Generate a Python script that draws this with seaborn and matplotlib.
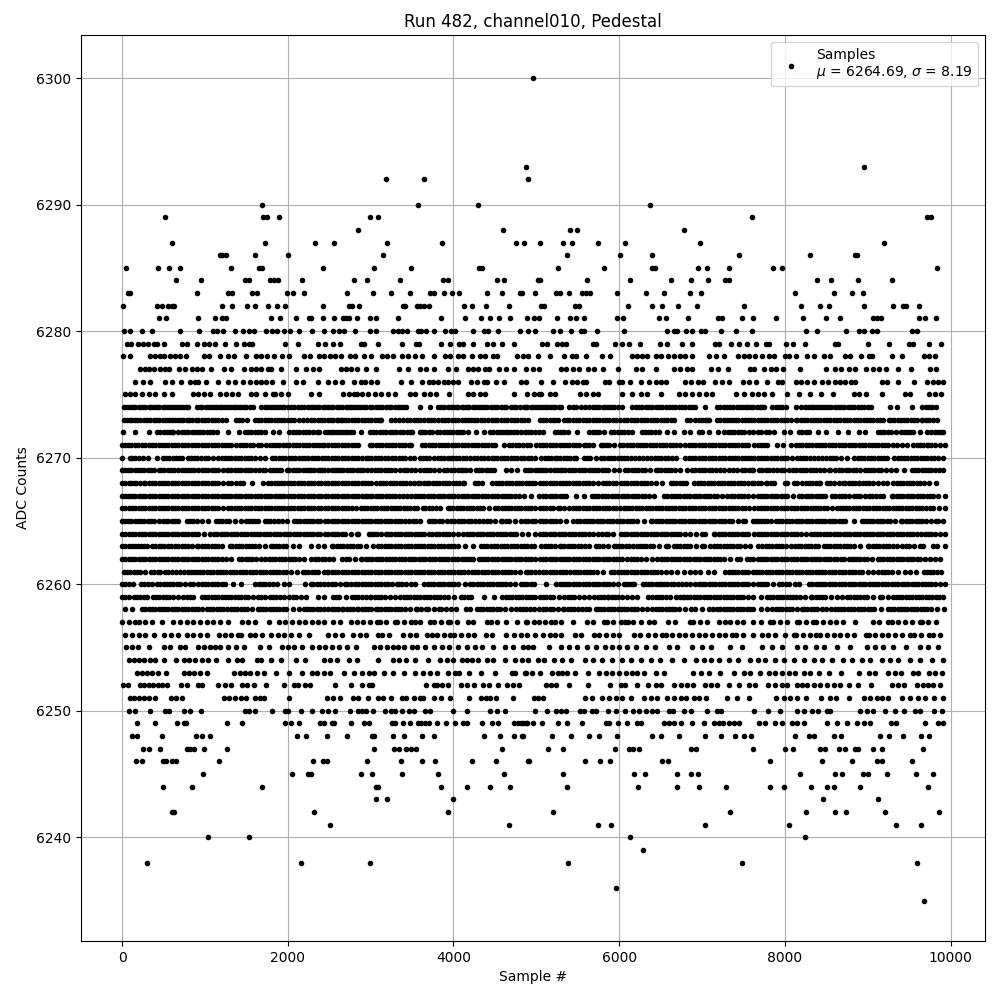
import pandas as pd
import matplotlib
matplotlib.use("Agg")
import matplotlib.pyplot as plt
import seaborn as sns

title = "Run 482, channel010, Pedestal"
x_label = "Sample #"
y_label = "ADC Counts"
mu = 6264.69
sigma = 8.19

# ---------------------------
# sample numbers per ADC level
# ---------------------------
upper = {
    6300: [4963],
    6293: [4878, 8950],
    6292: [3180, 3650, 4902],
    6290: [1684, 3566, 4300, 6372],
    6289: [515, 1697, 1745, 1889, 2987, 3095, 7600, 9720, 9760],
    6288: [2842, 4603, 5408, 5492, 6781],
    6287: [600, 1720, 2324, 2553, 3192, 3867, 4760, 4854, 5047, 5324, 5432, 5745, 6071, 6974, 9202],
    6286: [1178, 1210, 1258, 1604, 1998, 3144, 5372, 6010, 6396, 7444, 8299, 8849, 8869],
    6285: [44, 430, 563, 695, 1310, 1648, 1688, 2428, 3035, 3493, 4305, 4345, 5264, 5818, 6396, 6428, 6950, 7058, 7323, 7853, 7962, 9841],
    6284: [647, 949, 1479, 1528, 1781, 1829, 1877, 2167, 2794, 2951, 3349, 3879, 3940, 4530, 4615, 5015, 5047, 5613, 6131, 6625, 6866, 7070, 7283, 7323, 8383, 8552, 8877, 9299],
    6283: [72, 100, 900, 1274, 1323, 1564, 1628, 1986, 2058, 2191, 2710, 3023, 3240, 3481, 3718, 3767, 3891, 3988, 4072, 4410, 4591, 4808, 4822, 4987, 5240, 5288, 5396, 5553, 5601, 5649, 5974, 6324, 6540, 6854, 6986, 8118, 8588, 8805, 8938],
    6282: [8, 418, 478, 551, 599, 631, 1202, 1323, 1503, 1600, 1757, 1865, 1962, 2420, 2734, 2774, 2854, 3385, 3417, 3554, 3602, 3650, 3710, 4133, 4225, 4398, 4675, 5059, 5095, 5468, 5517, 6107, 6396, 6516, 6709, 6938, 7504, 8191, 8419, 8528, 8961, 9311, 9423, 9463, 9624],
    6281: [442, 527, 913, 1118, 1202, 1250, 1793, 1901, 2094, 2251, 2275, 2420, 2553, 2661, 2700, 2734, 2830, 2987, 3059, 3325, 3855, 4145, 4338, 4446, 4555, 4687, 4884, 4975, 5035, 5252, 5408, 5476, 5577, 5974, 6047, 6480, 6565, 6830, 7191, 7239, 7480, 7612, 7889, 8215, 8492, 8660, 9070, 9118, 9166, 9624, 9696, 9829],
    6280: [20, 100, 237, 358, 695, 925, 1093, 1142, 1214, 1359, 1455, 1528, 1588, 1733, 1805, 1865, 1950, 2030, 2131, 2287, 2432, 2541, 2613, 2673, 2806, 2987, 3059, 3276, 3325, 3373, 3445, 3566, 3614, 3674, 3771, 3903, 3976, 4024, 4241, 4374, 4422, 4543, 4808, 4904, 4983, 5203, 5288, 5420, 5537, 5577, 5733, 6059, 6577, 6661, 6701, 6805, 6878, 6986, 7034, 7227, 7408, 7600, 8251, 8387, 8733, 8893, 8950, 9058, 9110, 9540, 9600],
    6279: [60, 108, 189, 253, 318, 382, 422, 502, 724, 784, 908, 985, 1045, 1126, 1238, 1379, 1467, 1528, 1568, 1962, 2118, 2360, 2452, 2541, 2625, 2878, 2915, 3083, 3373, 3542, 3578, 3855, 3964, 4072, 4120, 4241, 4410, 4482, 4591, 4735, 5071, 5135, 5252, 5312, 5360, 5685, 5725, 5950, 6035, 6119, 6251, 6492, 6577, 6757, 6878, 7155, 7211, 7347, 7444, 7540, 7648, 7769, 7805, 8010, 8094, 8239, 8600, 8636, 8998, 9263, 9503, 9552, 9744, 9889],
    6278: [8, 92, 342, 402, 462, 502, 583, 643, 703, 776, 985, 1045, 1178, 1274, 1347, 1491, 1620, 1676, 1749, 1829, 1930, 2018, 2199, 2271, 2372, 2432, 2513, 2573, 2641, 2746, 2814, 2915, 3003, 3136, 3196, 3268, 3377, 3457, 3538, 3618, 3771, 3903, 3960, 4060, 4120, 4229, 4322, 4382, 4474, 4522, 4764, 4844, 4894, 5023, 5167, 5336, 5436, 5476, 5597, 5794, 5890, 6159, 6219, 6279, 6340, 6440, 6500, 6589, 6661, 6733, 6797, 6878, 7090, 7163, 7263, 7432, 7504, 7564, 7645, 7725, 7805, 7865, 8006, 8046, 8134, 8267, 8347, 8476, 8540, 8729, 8789, 8925, 9010, 9050, 9299, 9419, 9680, 9744, 9813],
}

# dense band, sample numbers in tens: single dots can't be told apart inside the runs
band_tens = {
    6277: [22, 28, 33, 39, 46, 52, 57, 69, 76, 84, 91, 96, 107, 123, 131, 147, 156, 162, 168, 176, 180, 192, 210, 222, 230, 238, 264, 270, 276, 284, 294, 307, 334, 345, 359, 367, 377, 393, 403, 417, 423, 430, 438, 443, 455, 464, 473, 487, 496, 503, 530, 536, 544, 551, 562, 570, 580, 599, 620, 628, 645, 666, 674, 682, 688, 711, 719, 731, 758, 763, 775, 783, 789, 798, 818, 850, 861, 868, 877, 885, 898, 907, 914, 922, 936, 952, 975, 983],
    6276: [15, 25, 34, 52, 60, 71, 82, 88, 92, 101, 116, 128, 136, 146, 154, 162, 168, 174, 181, 194, 210, 218, 237, 249, 257, 265, 280, 288, 293, 300, 308, 337, 349, 362, 370, 375, 381, 388, 393, 399, 405, 421, 429, 437, 441, 451, 461, 481, 487, 506, 520, 535, 543, 549, 556, 560, 583, 588, 600, 604, 613, 626, 636, 644, 651, 656, 679, 687, 695, 701, 716, 724, 732, 750, 757, 765, 779, 792, 797, 813, 820, 827, 835, 845, 852, 860, 866, 873, 880, 885, 917, 923, 937, 956, 972, 979, 985, 991],
    6275: [4, 10, 16, 24, 32, 40, 50, 60, 85, 92, 99, 106, 118, 126, 133, 140, 156, 162, 172, 182, 184, 192, 200, 228, 238, 267, 274, 280, 283, 290, 297, 305, 313, 321, 329, 348, 354, 365, 372, 379, 395, 417, 423, 432, 438, 473, 489, 497, 503, 506, 516, 523, 553, 560, 568, 574, 604, 615, 626, 634, 651, 672, 680, 688, 696, 705, 712, 741, 751, 760, 767, 775, 785, 803, 817, 830, 844, 858, 883, 890, 898, 917, 945, 951, 974, 981, 989],
    6274: [2, 9, 16, 24, 32, 38, 45, 52, 59, 66, 73, 80, 90, 97, 105, 112, 118, 124, 132, 138, 144, 150, 158, 168, 175, 182, 189, 196, 204, 212, 220, 228, 234, 242, 248, 255, 262, 270, 275, 281, 288, 295, 302, 310, 318, 325, 333, 335, 343, 359, 372, 381, 389, 397, 403, 410, 415, 419, 426, 433, 441, 449, 457, 464, 469, 476, 485, 489, 496, 503, 510, 516, 523, 530, 540, 544, 554, 559, 568, 572, 580, 586, 590, 598, 604, 615, 624, 632, 636, 644, 652, 660, 668, 676, 684, 692, 704, 718, 726, 734, 742, 750, 756, 762, 770, 775, 785, 793, 801, 814, 820, 828, 834, 841, 849, 856, 864, 872, 880, 888, 896, 904, 927, 935, 954, 966, 974, 982],
    6273: [2, 10, 15, 22, 30, 38, 45, 53, 60, 68, 71, 78, 84, 89, 96, 104, 112, 121, 126, 138, 141, 151, 161, 168, 176, 184, 192, 200, 208, 218, 228, 236, 244, 252, 259, 264, 269, 277, 285, 293, 301, 309, 313, 325, 334, 344, 352, 360, 369, 373, 381, 386, 394, 402, 410, 418, 425, 429, 437, 447, 450, 457, 465, 473, 481, 490, 504, 512, 520, 526, 534, 540, 548, 556, 564, 572, 576, 580, 588, 596, 606, 614, 622, 626, 634, 642, 650, 658, 666, 682, 685, 692, 700, 706, 708, 718, 722, 730, 738, 744, 748, 756, 763, 771, 779, 787, 795, 803, 813, 815, 823, 831, 835, 843, 851, 859, 867, 875, 883, 891, 895, 903, 911, 919, 926, 928, 936, 944, 952, 960, 965, 966, 974, 984],
    6272: [1, 16, 33, 42, 50, 58, 62, 68, 76, 84, 92, 94, 102, 110, 114, 128, 141, 148, 156, 164, 172, 182, 190, 202, 210, 218, 226, 231, 238, 245, 252, 258, 262, 266, 272, 279, 288, 299, 307, 315, 323, 331, 339, 344, 350, 359, 366, 374, 380, 384, 392, 400, 408, 417, 427, 437, 444, 452, 460, 466, 470, 477, 482, 490, 498, 503, 508, 522, 530, 538, 549, 563, 568, 576, 582, 590, 598, 606, 616, 627, 635, 643, 648, 658, 666, 678, 685, 696, 700, 709, 719, 727, 735, 743, 751, 762, 771, 777, 781, 787, 799, 806, 817, 821, 829, 840, 850, 864, 876, 889, 897, 912, 920, 928, 934, 940, 948, 951, 955, 963, 971, 977, 985, 991],
    6271: [0, 7, 15, 24, 32, 36, 44, 52, 60, 68, 76, 84, 92, 100, 108, 116, 124, 132, 137, 142, 150, 158, 164, 168, 174, 182, 190, 198, 206, 214, 222, 230, 238, 244, 253, 261, 269, 277, 285, 299, 302, 310, 318, 326, 334, 342, 349, 362, 370, 378, 386, 394, 402, 410, 418, 426, 434, 442, 450, 461, 467, 475, 484, 489, 492, 500, 504, 512, 520, 528, 536, 544, 552, 558, 560, 568, 578, 580, 588, 594, 601, 609, 617, 625, 633, 641, 649, 657, 665, 673, 679, 684, 692, 700, 708, 716, 724, 732, 740, 748, 756, 763, 771, 779, 790, 798, 808, 813, 821, 829, 837, 845, 853, 861, 869, 877, 885, 893, 901, 909, 917, 925, 935, 942, 948, 955, 963, 971, 973, 981, 993],
    6270: [0, 9, 12, 20, 31, 42, 49, 57, 65, 72, 79, 87, 95, 104, 110, 116, 124, 132, 140, 148, 156, 166, 172, 181, 189, 197, 205, 213, 221, 229, 237, 245, 253, 261, 269, 277, 285, 295, 297, 305, 313, 321, 326, 334, 342, 352, 359, 367, 376, 381, 389, 397, 399, 407, 415, 425, 429, 437, 447, 449, 457, 465, 473, 481, 490, 499, 506, 514, 523, 525, 533, 541, 548, 557, 565, 578, 582, 590, 598, 606, 614, 624, 634, 639, 647, 655, 664, 669, 680, 688, 696, 704, 712, 720, 728, 736, 744, 752, 755, 759, 763, 771, 779, 787, 795, 803, 815, 818, 826, 835, 845, 854, 862, 875, 884, 892, 900, 908, 916, 923, 932, 940, 948, 956, 964, 972, 980, 991],
    6269: [0, 7, 15, 23, 31, 38, 44, 47, 55, 63, 72, 76, 79, 87, 92, 96, 100, 108, 116, 127, 128, 136, 144, 152, 160, 170, 173, 178, 186, 192, 199, 202, 210, 218, 226, 228, 236, 241, 248, 257, 259, 267, 275, 283, 291, 301, 305, 313, 321, 325, 330, 340, 349, 360, 364, 372, 382, 388, 397, 401, 409, 415, 420, 427, 431, 439, 445, 449, 463, 477, 486, 494, 501, 508, 517, 525, 528, 531, 539, 547, 555, 563, 571, 579, 587, 600, 607, 615, 623, 631, 644, 647, 655, 663, 673, 682, 688, 696, 704, 712, 722, 732, 742, 748, 757, 762, 769, 773, 781, 791, 799, 805, 810, 818, 826, 834, 842, 853, 855, 861, 865, 874, 878, 886, 897, 900, 908, 916, 928, 934, 944, 953, 957, 965, 973, 981, 991],
    6268: [0, 8, 14, 17, 26, 28, 36, 44, 52, 60, 68, 76, 84, 92, 100, 108, 116, 128, 132, 142, 146, 157, 170, 176, 184, 192, 200, 208, 216, 224, 232, 240, 245, 253, 261, 269, 277, 285, 293, 301, 311, 315, 323, 331, 339, 347, 357, 360, 368, 371, 379, 387, 395, 403, 411, 413, 426, 434, 447, 451, 459, 467, 475, 483, 491, 499, 504, 512, 520, 528, 536, 544, 552, 560, 568, 574, 580, 588, 596, 602, 610, 618, 626, 634, 644, 652, 662, 665, 673, 681, 690, 695, 703, 711, 719, 727, 735, 743, 751, 760, 763, 771, 777, 779, 787, 800, 803, 811, 821, 825, 833, 841, 843, 851, 859, 870, 873, 881, 889, 890, 898, 906, 918, 923, 931, 939, 947, 955, 963, 974, 982],
    6267: [0, 7, 13, 16, 24, 32, 40, 48, 56, 64, 72, 80, 88, 96, 104, 112, 120, 128, 136, 144, 152, 160, 168, 176, 184, 192, 200, 208, 216, 224, 232, 240, 245, 253, 261, 269, 277, 285, 293, 299, 302, 310, 318, 326, 334, 344, 349, 357, 365, 373, 381, 389, 397, 405, 410, 418, 426, 434, 442, 450, 458, 466, 474, 485, 493, 503, 512, 520, 528, 536, 548, 557, 567, 575, 583, 591, 599, 607, 615, 623, 631, 642, 654, 662, 670, 678, 686, 694, 702, 710, 718, 730, 735, 743, 751, 762, 771, 779, 787, 795, 803, 817, 821, 829, 837, 845, 849, 857, 865, 873, 883, 891, 897, 905, 915, 918, 929, 931, 939, 947, 955, 963, 971, 979, 993],
    6266: [0, 8, 16, 24, 32, 40, 48, 56, 64, 72, 80, 88, 96, 100, 108, 116, 128, 132, 140, 148, 156, 164, 172, 180, 188, 196, 204, 212, 220, 228, 236, 245, 253, 261, 269, 277, 288, 292, 300, 308, 316, 324, 332, 340, 348, 356, 363, 366, 374, 384, 394, 396, 404, 412, 420, 428, 436, 450, 454, 462, 470, 478, 486, 494, 504, 512, 520, 526, 528, 534, 540, 548, 556, 564, 572, 580, 588, 596, 606, 608, 616, 624, 632, 640, 648, 656, 664, 672, 680, 688, 696, 704, 712, 720, 728, 736, 744, 752, 763, 771, 779, 787, 795, 803, 811, 819, 827, 835, 843, 851, 863, 866, 874, 882, 890, 898, 906, 914, 922, 931, 934, 942, 950, 958, 966, 975, 979, 986, 993],
    6265: [0, 7, 15, 23, 31, 39, 49, 53, 60, 67, 78, 82, 90, 104, 113, 121, 129, 144, 149, 157, 164, 172, 175, 183, 193, 199, 207, 215, 223, 231, 239, 245, 253, 261, 269, 277, 285, 293, 301, 309, 317, 325, 333, 341, 351, 359, 370, 378, 386, 392, 397, 405, 413, 421, 431, 436, 444, 457, 459, 467, 481, 486, 495, 499, 504, 512, 520, 528, 544, 549, 557, 565, 573, 581, 589, 597, 605, 613, 622, 638, 640, 648, 656, 664, 672, 680, 688, 696, 704, 712, 720, 728, 736, 750, 752, 762, 765, 767, 775, 783, 789, 793, 801, 809, 817, 825, 833, 841, 849, 857, 865, 873, 893, 895, 903, 911, 919, 927, 940, 942, 950, 958, 962, 970, 982, 985, 991],
    6264: [0, 8, 16, 24, 28, 36, 44, 52, 60, 68, 76, 84, 92, 106, 111, 119, 127, 135, 143, 151, 159, 167, 175, 183, 191, 199, 207, 215, 223, 231, 239, 245, 253, 261, 269, 283, 285, 298, 300, 308, 318, 321, 329, 337, 345, 353, 361, 370, 379, 383, 391, 400, 406, 412, 420, 428, 436, 444, 452, 460, 468, 476, 490, 498, 504, 512, 520, 523, 531, 539, 547, 555, 563, 574, 584, 587, 593, 602, 610, 618, 626, 634, 642, 650, 658, 666, 674, 686, 700, 704, 714, 716, 724, 732, 740, 748, 756, 763, 771, 775, 783, 791, 799, 807, 815, 825, 831, 839, 847, 855, 863, 871, 879, 887, 895, 903, 911, 919, 927, 935, 943, 951, 959, 969, 973, 981, 993],
    6263: [0, 8, 12, 15, 23, 30, 36, 44, 47, 55, 64, 68, 76, 84, 90, 92, 100, 108, 116, 120, 130, 133, 141, 149, 157, 165, 180, 182, 190, 198, 214, 228, 236, 244, 253, 255, 263, 271, 279, 287, 303, 309, 317, 325, 333, 341, 349, 357, 365, 373, 381, 389, 397, 405, 423, 433, 441, 449, 457, 465, 473, 481, 489, 497, 506, 514, 522, 528, 530, 538, 546, 554, 564, 572, 580, 594, 596, 604, 612, 617, 625, 633, 641, 656, 659, 666, 670, 678, 686, 700, 702, 710, 714, 722, 730, 738, 746, 758, 767, 773, 777, 785, 793, 801, 808, 816, 824, 832, 840, 847, 851, 859, 867, 875, 883, 900, 902, 910, 918, 926, 935, 942, 950, 963, 967, 979, 984, 993],
    6262: [0, 8, 16, 24, 32, 40, 48, 56, 64, 72, 80, 88, 96, 104, 112, 120, 132, 141, 149, 157, 168, 173, 181, 189, 197, 205, 213, 228, 233, 241, 245, 254, 266, 274, 288, 290, 298, 306, 314, 322, 330, 338, 346, 354, 362, 370, 378, 386, 394, 402, 410, 418, 424, 431, 434, 442, 450, 458, 466, 474, 482, 490, 498, 504, 512, 520, 528, 536, 544, 552, 560, 568, 576, 584, 592, 600, 604, 610, 618, 626, 640, 646, 654, 662, 670, 678, 686, 694, 702, 710, 718, 726, 742, 746, 754, 758, 762, 767, 775, 783, 791, 799, 807, 815, 823, 831, 839, 847, 855, 863, 872, 881, 883, 891, 899, 912, 915, 923, 931, 939, 947, 955, 963, 975, 987],
    6261: [2, 10, 18, 22, 35, 39, 46, 52, 60, 70, 75, 83, 90, 94, 102, 110, 118, 126, 134, 142, 150, 158, 166, 174, 182, 190, 198, 204, 218, 221, 229, 237, 244, 247, 249, 257, 265, 273, 281, 289, 297, 305, 313, 321, 329, 333, 341, 349, 357, 365, 373, 381, 389, 397, 405, 413, 418, 426, 434, 442, 450, 458, 466, 474, 487, 490, 498, 503, 512, 520, 528, 536, 541, 549, 557, 565, 573, 590, 594, 602, 610, 618, 626, 634, 642, 650, 662, 670, 678, 686, 698, 707, 715, 728, 732, 740, 748, 756, 762, 765, 773, 781, 789, 797, 805, 813, 821, 829, 837, 845, 853, 861, 869, 877, 885, 893, 907, 913, 921, 929, 945, 951, 958, 968, 971, 979, 989],
    6260: [0, 8, 13, 23, 31, 42, 46, 54, 62, 70, 82, 85, 92, 100, 108, 116, 124, 144, 161, 169, 177, 187, 196, 202, 221, 228, 231, 239, 244, 249, 257, 269, 271, 276, 281, 289, 297, 305, 313, 321, 332, 334, 343, 349, 353, 364, 373, 381, 389, 397, 405, 414, 420, 428, 436, 444, 452, 460, 468, 474, 481, 489, 497, 512, 524, 528, 536, 544, 552, 560, 568, 576, 584, 592, 606, 608, 616, 618, 629, 632, 640, 648, 650, 658, 666, 676, 686, 692, 700, 708, 716, 724, 732, 740, 748, 756, 762, 771, 779, 793, 797, 805, 812, 817, 829, 833, 841, 849, 857, 865, 873, 881, 889, 893, 901, 909, 917, 925, 933, 941, 949, 957, 965, 973, 981, 993],
    6259: [0, 8, 14, 22, 30, 37, 45, 53, 62, 68, 78, 86, 96, 104, 112, 120, 128, 136, 144, 152, 164, 168, 172, 178, 186, 196, 202, 210, 222, 236, 244, 254, 262, 277, 281, 289, 299, 301, 309, 317, 329, 336, 344, 352, 360, 368, 376, 384, 393, 409, 413, 421, 437, 449, 459, 467, 475, 483, 491, 499, 504, 512, 520, 534, 538, 546, 558, 563, 570, 578, 586, 587, 595, 603, 615, 622, 635, 640, 648, 657, 661, 669, 677, 678, 686, 694, 702, 710, 718, 726, 734, 742, 750, 762, 771, 778, 786, 794, 802, 810, 818, 831, 833, 841, 849, 863, 869, 875, 883, 891, 899, 915, 917, 931, 934, 942, 950, 958, 966, 974, 982, 991],
    6258: [3, 12, 24, 28, 36, 44, 52, 60, 68, 76, 84, 92, 102, 106, 114, 122, 132, 135, 143, 151, 164, 166, 174, 182, 190, 198, 214, 219, 227, 235, 244, 253, 261, 265, 267, 275, 283, 285, 293, 301, 307, 309, 317, 325, 333, 341, 355, 356, 367, 369, 383, 385, 397, 403, 415, 420, 428, 432, 440, 448, 456, 469, 476, 484, 492, 503, 512, 520, 532, 534, 542, 550, 560, 564, 572, 574, 582, 590, 598, 606, 614, 622, 634, 640, 648, 656, 664, 672, 687, 692, 708, 713, 718, 722, 730, 738, 746, 754, 762, 771, 785, 793, 801, 809, 821, 823, 831, 839, 850, 856, 860, 868, 876, 884, 892, 900, 908, 925, 928, 936, 944, 952, 960, 968, 976, 992],
    6257: [0, 8, 16, 20, 28, 36, 48, 62, 70, 78, 86, 94, 102, 110, 118, 128, 145, 152, 160, 177, 189, 197, 205, 213, 221, 229, 237, 244, 255, 263, 276, 284, 291, 299, 308, 311, 319, 329, 332, 340, 349, 353, 359, 372, 377, 385, 393, 396, 404, 417, 424, 440, 445, 453, 464, 477, 487, 489, 497, 503, 510, 518, 522, 530, 544, 561, 569, 582, 585, 593, 602, 607, 611, 617, 626, 636, 642, 659, 667, 686, 689, 698, 706, 720, 728, 734, 742, 750, 762, 771, 782, 786, 794, 802, 815, 817, 825, 834, 838, 846, 854, 862, 870, 885, 906, 914, 925, 929, 937, 945, 953, 963, 965, 973, 983],
    6256: [4, 12, 20, 28, 38, 51, 59, 68, 78, 86, 94, 102, 117, 124, 132, 140, 144, 154, 161, 169, 180, 188, 196, 204, 214, 226, 249, 257, 265, 279, 287, 295, 309, 314, 322, 339, 348, 355, 368, 374, 380, 388, 396, 401, 409, 417, 425, 439, 446, 463, 473, 481, 489, 499, 508, 516, 522, 530, 547, 554, 570, 576, 584, 592, 600, 618, 625, 635, 643, 652, 656, 664, 672, 680, 688, 696, 704, 712, 720, 728, 736, 741, 749, 762, 772, 780, 788, 800, 811, 814, 822, 830, 838, 843, 851, 859, 867, 875, 883, 898, 901, 909, 917, 925, 933, 942, 951, 956, 964, 974, 979, 987],
}

# more dots inside the runs that read as solid ink
band_fill_tens = {
    6274: [6, 13, 20, 28, 35, 42, 49, 56, 63, 70, 77, 94, 101, 109, 115, 121, 128, 135, 141, 147, 154, 172, 179, 186, 193, 200, 208, 216, 224, 231, 238, 245, 252, 259, 266, 273, 278, 285, 292, 299, 306, 314, 322, 329, 339, 385, 393, 400, 406, 412, 417, 423, 430, 437, 445, 453, 461, 473, 480, 487, 493, 500, 507, 513, 520, 527, 548, 563, 576, 583, 594, 620, 628, 640, 648, 656, 664, 672, 680, 688, 722, 730, 738, 746, 753, 759, 766, 773, 789, 797, 824, 831, 838, 845, 852, 860, 868, 876, 884, 892, 900, 970, 978],
    6273: [6, 12, 18, 26, 34, 41, 49, 57, 64, 74, 81, 92, 100, 108, 116, 145, 164, 172, 180, 188, 196, 204, 213, 223, 232, 240, 248, 255, 261, 266, 273, 281, 289, 297, 305, 311, 329, 339, 348, 356, 364, 377, 390, 398, 406, 414, 421, 433, 442, 453, 461, 469, 477, 485, 508, 516, 523, 537, 544, 552, 560, 568, 584, 592, 601, 610, 618, 630, 638, 646, 654, 662, 696, 704, 726, 734, 741, 752, 759, 767, 775, 783, 791, 799, 808, 819, 827, 839, 847, 855, 863, 871, 879, 887, 899, 907, 915, 932, 940, 948, 956, 970, 979],
    6272: [46, 54, 60, 72, 80, 88, 98, 106, 152, 160, 168, 206, 214, 222, 235, 248, 255, 269, 275, 303, 311, 319, 327, 335, 347, 362, 370, 388, 396, 404, 412, 448, 456, 463, 473, 486, 494, 526, 534, 572, 594, 602, 611, 631, 639, 731, 739, 747, 757, 767, 825, 916, 924, 944, 981, 988],
    6271: [3, 11, 19, 28, 40, 48, 56, 64, 72, 80, 88, 96, 104, 112, 120, 128, 146, 154, 178, 186, 194, 202, 210, 218, 226, 234, 241, 249, 257, 265, 273, 281, 306, 314, 322, 330, 338, 346, 366, 374, 382, 390, 398, 406, 414, 422, 430, 438, 446, 471, 479, 508, 516, 524, 532, 540, 548, 564, 584, 605, 613, 621, 629, 637, 645, 653, 661, 669, 688, 696, 704, 712, 720, 728, 736, 744, 752, 767, 775, 817, 825, 833, 841, 849, 857, 865, 873, 881, 889, 897, 905, 913, 921, 930, 959, 967, 977, 987],
    6270: [16, 25, 53, 61, 69, 83, 91, 100, 120, 128, 136, 144, 152, 161, 185, 193, 201, 209, 217, 225, 233, 241, 249, 257, 265, 273, 281, 290, 301, 309, 317, 330, 338, 347, 363, 371, 385, 393, 403, 411, 420, 433, 442, 453, 461, 469, 477, 485, 494, 510, 518, 529, 537, 545, 561, 572, 586, 594, 602, 610, 619, 629, 643, 651, 659, 684, 692, 700, 708, 716, 724, 732, 740, 748, 767, 775, 783, 791, 799, 809, 822, 830, 840, 850, 858, 868, 888, 896, 904, 912, 920, 936, 944, 952, 960, 968, 976, 985],
    6269: [3, 11, 19, 27, 35, 51, 59, 67, 83, 104, 112, 122, 132, 140, 148, 156, 165, 182, 189, 206, 214, 222, 232, 239, 244, 253, 263, 271, 279, 287, 296, 309, 317, 335, 344, 354, 368, 377, 392, 405, 412, 435, 442, 470, 490, 498, 504, 512, 521, 535, 543, 551, 559, 567, 575, 583, 594, 611, 619, 627, 637, 651, 659, 668, 692, 700, 708, 717, 727, 737, 752, 760, 777, 786, 795, 814, 822, 830, 838, 847, 869, 882, 891, 904, 912, 922, 961, 969, 977, 986],
    6268: [4, 11, 22, 32, 40, 48, 56, 64, 72, 80, 88, 96, 104, 112, 122, 137, 180, 188, 196, 204, 212, 220, 228, 236, 249, 257, 265, 273, 281, 289, 297, 306, 319, 327, 335, 343, 352, 364, 375, 383, 391, 399, 407, 430, 455, 463, 471, 479, 487, 495, 508, 516, 524, 532, 540, 548, 556, 564, 584, 592, 606, 614, 622, 630, 639, 669, 677, 699, 707, 715, 723, 731, 739, 747, 755, 767, 783, 815, 829, 837, 855, 865, 877, 885, 894, 902, 912, 935, 943, 951, 959, 968],
    6267: [4, 10, 20, 28, 36, 44, 52, 60, 68, 76, 84, 92, 100, 108, 116, 124, 132, 140, 148, 156, 164, 172, 180, 188, 196, 204, 212, 220, 228, 236, 249, 257, 265, 273, 281, 289, 296, 306, 314, 322, 330, 339, 353, 361, 369, 377, 385, 393, 401, 414, 422, 430, 438, 446, 454, 462, 470, 479, 508, 516, 524, 532, 571, 579, 587, 595, 603, 611, 619, 627, 636, 658, 666, 674, 682, 690, 698, 706, 714, 724, 739, 747, 756, 767, 775, 783, 791, 799, 810, 825, 833, 841, 861, 869, 878, 887, 901, 910, 935, 943, 951, 959, 967, 975, 985],
    6266: [4, 12, 20, 28, 36, 44, 52, 60, 68, 76, 84, 92, 104, 112, 122, 136, 144, 152, 160, 168, 176, 184, 192, 200, 208, 216, 224, 232, 240, 249, 257, 265, 273, 282, 296, 304, 312, 320, 328, 336, 344, 352, 370, 379, 400, 408, 416, 424, 432, 443, 458, 466, 474, 482, 490, 499, 508, 516, 544, 552, 560, 568, 576, 584, 592, 601, 612, 620, 628, 636, 644, 652, 660, 668, 676, 684, 692, 700, 708, 716, 724, 732, 740, 748, 757, 767, 775, 783, 791, 799, 807, 815, 823, 831, 839, 847, 857, 870, 878, 886, 894, 902, 910, 918, 926, 938, 946, 954, 962, 970],
    6265: [3, 11, 19, 27, 35, 44, 56, 64, 86, 97, 117, 125, 136, 153, 160, 179, 188, 211, 219, 227, 235, 249, 257, 265, 273, 281, 289, 297, 305, 313, 321, 329, 337, 346, 355, 374, 382, 401, 409, 417, 426, 440, 450, 463, 474, 490, 508, 516, 524, 536, 553, 561, 569, 577, 585, 593, 601, 609, 617, 630, 644, 652, 660, 668, 676, 684, 692, 700, 708, 716, 724, 732, 743, 771, 779, 797, 805, 813, 821, 829, 837, 845, 853, 861, 869, 883, 899, 907, 915, 923, 933, 946, 954, 966, 976],
    6264: [4, 12, 20, 32, 40, 48, 56, 64, 72, 80, 88, 99, 115, 123, 131, 139, 147, 155, 163, 171, 179, 187, 195, 203, 211, 219, 227, 235, 249, 257, 265, 276, 304, 313, 325, 333, 341, 349, 357, 365, 374, 387, 395, 416, 424, 432, 440, 448, 456, 464, 472, 483, 508, 516, 527, 535, 543, 551, 559, 568, 579, 606, 614, 622, 630, 638, 646, 654, 662, 670, 680, 693, 720, 728, 736, 744, 752, 767, 779, 787, 795, 803, 811, 820, 835, 843, 851, 859, 867, 875, 883, 891, 899, 907, 915, 923, 931, 939, 947, 955, 964, 977, 987],
    6263: [4, 19, 26, 40, 51, 59, 72, 80, 96, 104, 112, 137, 145, 153, 161, 172, 186, 194, 206, 259, 267, 275, 283, 295, 313, 321, 329, 337, 345, 353, 361, 369, 377, 385, 393, 401, 414, 437, 445, 453, 461, 469, 477, 485, 493, 510, 518, 534, 542, 550, 559, 576, 587, 600, 608, 621, 629, 637, 648, 674, 682, 693, 718, 726, 734, 742, 752, 781, 789, 797, 812, 820, 828, 836, 855, 863, 871, 879, 891, 906, 914, 922, 930, 946, 956],
    6262: [4, 12, 20, 28, 36, 44, 52, 60, 68, 76, 84, 92, 100, 108, 116, 126, 145, 153, 162, 177, 185, 193, 201, 209, 220, 237, 250, 270, 281, 294, 302, 310, 318, 326, 334, 342, 350, 358, 366, 374, 382, 390, 398, 406, 414, 421, 438, 446, 454, 462, 470, 478, 486, 494, 508, 516, 524, 532, 540, 548, 556, 564, 572, 580, 588, 596, 614, 622, 633, 650, 658, 666, 674, 682, 690, 698, 706, 714, 722, 734, 771, 779, 787, 795, 803, 811, 819, 827, 835, 843, 851, 859, 868, 877, 887, 895, 905, 919, 927, 935, 943, 951, 959, 969, 981],
    6261: [6, 14, 28, 43, 56, 65, 79, 87, 98, 106, 114, 122, 130, 138, 146, 154, 162, 170, 178, 186, 194, 211, 225, 233, 253, 261, 269, 277, 285, 293, 301, 309, 317, 325, 337, 345, 353, 361, 369, 377, 385, 393, 401, 409, 422, 430, 438, 446, 454, 462, 470, 480, 494, 508, 516, 524, 532, 545, 553, 561, 569, 581, 598, 606, 614, 622, 630, 638, 646, 656, 692, 736, 744, 752, 769, 777, 785, 793, 801, 809, 817, 825, 833, 841, 849, 857, 865, 873, 881, 889, 900, 917, 925, 937, 975, 984],
    6260: [4, 27, 36, 50, 58, 66, 76, 96, 104, 112, 120, 134, 165, 173, 182, 235, 253, 263, 285, 293, 301, 309, 317, 326, 338, 369, 377, 385, 393, 401, 424, 432, 440, 448, 456, 464, 485, 493, 532, 540, 548, 556, 564, 572, 580, 588, 599, 612, 636, 644, 654, 662, 671, 681, 696, 704, 712, 720, 728, 736, 744, 752, 767, 775, 786, 801, 837, 845, 853, 861, 869, 877, 885, 897, 905, 913, 921, 929, 937, 945, 953, 961, 969, 977, 987],
    6259: [4, 18, 26, 41, 49, 57, 73, 82, 100, 108, 116, 124, 132, 140, 148, 158, 182, 191, 206, 216, 258, 270, 285, 294, 305, 313, 323, 340, 348, 356, 364, 372, 380, 388, 401, 417, 463, 471, 479, 487, 495, 508, 516, 527, 542, 552, 574, 582, 591, 599, 609, 644, 652, 673, 682, 690, 698, 706, 714, 722, 730, 738, 746, 756, 782, 790, 798, 806, 814, 824, 837, 845, 856, 879, 887, 895, 907, 924, 938, 946, 954, 962, 970, 978, 986],
    6258: [32, 40, 48, 56, 64, 72, 80, 88, 97, 110, 118, 127, 139, 147, 157, 170, 178, 186, 194, 206, 223, 231, 239, 249, 257, 271, 279, 289, 297, 313, 321, 329, 337, 348, 361, 376, 391, 436, 444, 452, 462, 480, 488, 497, 508, 516, 526, 538, 546, 555, 578, 586, 594, 602, 610, 618, 628, 644, 652, 660, 668, 680, 700, 726, 734, 742, 750, 758, 778, 789, 797, 805, 815, 827, 835, 845, 864, 872, 880, 888, 896, 904, 916, 932, 940, 948, 956, 964, 972, 984],
}

lower = {
    6255: [52, 121, 189, 322, 502, 583, 703, 764, 913, 985, 1065, 1126, 1186, 1274, 1375, 1467, 1660, 1769, 1930, 1998, 2070, 2171, 2291, 2372, 2452, 2533, 2613, 2713, 2822, 3035, 3116, 3196, 3276, 3325, 3397, 3497, 3558, 3658, 3759, 3859, 3952, 4060, 4161, 4261, 4342, 4482, 4623, 4724, 4844, 4894, 4955, 5155, 5296, 5396, 5497, 5617, 5717, 5830, 5918, 5998, 6099, 6199, 6320, 6432, 6601, 6701, 6882, 7002, 7103, 7343, 7484, 7725, 7845, 7966, 8146, 8247, 8379, 8468, 8628, 8789, 8990, 9090, 9190, 9311, 9459, 9632, 9732, 9853],
    6254: [80, 141, 201, 261, 334, 402, 511, 647, 752, 804, 876, 965, 1033, 1130, 1274, 1387, 1447, 1628, 1676, 1801, 1913, 2094, 2203, 2432, 2513, 2593, 2734, 2834, 3095, 3276, 3337, 3429, 3538, 3698, 3839, 3920, 4000, 4100, 4161, 4221, 4302, 4402, 4482, 4623, 4744, 4824, 4894, 5015, 5095, 5215, 5316, 5416, 5585, 5689, 5798, 5918, 6039, 6139, 6259, 6380, 6492, 6641, 6781, 6922, 7022, 7103, 7203, 7323, 7432, 7576, 7673, 7765, 7885, 7986, 8106, 8227, 8347, 8448, 8568, 8700, 8809, 8929, 9030, 9170, 9271, 9371, 9511, 9632, 9772, 9913],
    6253: [177, 237, 301, 362, 430, 527, 744, 804, 864, 945, 1021, 1347, 1419, 1479, 1540, 1628, 1708, 1853, 2010, 2167, 2287, 2352, 2432, 2513, 2673, 2794, 2894, 2975, 3035, 3156, 3276, 3397, 3538, 3638, 3718, 3799, 3928, 4020, 4072, 4193, 4334, 4507, 4707, 4744, 4864, 4874, 4950, 5047, 5195, 5256, 5316, 5368, 5468, 5629, 5758, 5838, 5918, 5998, 6079, 6159, 6219, 6300, 6440, 6540, 6890, 6982, 7082, 7215, 7384, 7504, 7584, 7705, 7805, 7885, 7966, 8046, 8126, 8227, 8307, 8407, 8528, 8676, 8901, 9010, 9094, 9251, 9331, 9399, 9544, 9612, 9744, 9813, 9893],
    6252: [8, 68, 213, 261, 322, 370, 430, 478, 539, 707, 784, 913, 961, 1154, 1238, 1310, 1443, 1508, 1588, 1733, 1950, 2070, 2118, 2211, 2263, 2565, 2758, 2894, 2975, 3011, 3674, 3759, 3807, 3867, 3940, 4096, 4169, 4253, 4362, 4434, 4543, 4651, 4724, 4796, 5115, 5183, 5236, 5396, 5629, 5890, 6018, 6071, 6219, 6348, 6440, 6500, 6661, 6741, 6822, 6894, 7042, 7103, 7183, 7323, 7444, 7564, 7645, 7793, 7877, 7966, 8026, 8146, 8207, 8267, 8347, 8427, 8508, 8588, 8668, 8769, 8877, 9038, 9291, 9371, 9439, 9600, 9672, 9732, 9793, 9873],
    6251: [92, 141, 201, 261, 322, 394, 587, 647, 720, 1226, 1286, 1359, 1431, 1491, 1600, 1660, 1708, 2010, 2468, 2541, 2625, 2782, 2842, 2963, 3083, 3144, 3240, 3373, 3433, 3518, 3590, 3638, 3771, 3855, 3964, 4193, 4338, 4398, 4446, 4519, 4724, 4975, 5023, 5075, 5585, 5673, 5798, 5878, 5958, 6039, 6139, 6300, 6380, 6452, 6581, 6661, 6741, 6809, 6902, 6962, 7050, 7303, 7424, 7564, 7889, 7986, 8066, 8146, 8251, 8432, 8540, 8612, 8769, 8950, 9030, 9110, 9170, 9251, 9411, 9511, 9612, 9692, 9805, 9913],
    6250: [80, 153, 342, 515, 563, 744, 816, 949, 1479, 1528, 1600, 1805, 1962, 1998, 2155, 2295, 2408, 2480, 2565, 2746, 2842, 2894, 2943, 3023, 3168, 3240, 3296, 3373, 3469, 3522, 3662, 3718, 4000, 4169, 4446, 4531, 4627, 4983, 5135, 5240, 5296, 5356, 5529, 5577, 5677, 5717, 5866, 5958, 6071, 6167, 6239, 6320, 6400, 6452, 6601, 6653, 6781, 6870, 7062, 7183, 7235, 7632, 7793, 7938, 8146, 8227, 8327, 8399, 8508, 8548, 8909, 8990, 9070, 9210, 9331, 9443, 9572, 9632, 9805, 9893],
    6249: [177, 394, 659, 744, 776, 1266, 1443, 1962, 2034, 2131, 2384, 2432, 2533, 2553, 2758, 2915, 2975, 3264, 3296, 3385, 3481, 3566, 3614, 3658, 3710, 3807, 3915, 4024, 4120, 4161, 4342, 4470, 4543, 4735, 4784, 4844, 4884, 4814, 4874, 4963, 5071, 5264, 5372, 5553, 5838, 5878, 5986, 6095, 6219, 6267, 6540, 6601, 6661, 6745, 6878, 7022, 7143, 7203, 7251, 7323, 7384, 7444, 7685, 7757, 7885, 7966, 8086, 8146, 8227, 8508, 8628, 8749, 8869, 8950, 9030, 9279, 9343, 9692, 9853, 9913],
    6248: [117, 177, 478, 888, 961, 1057, 2107, 2215, 2468, 2710, 3011, 3035, 3276, 3397, 3626, 3759, 4374, 4567, 4735, 4832, 4842, 5191, 5420, 5637, 5758, 5974, 6396, 6500, 6721, 7034, 7227, 7396, 7504, 7588, 8118, 8287, 8347, 8588, 8672, 9154, 9263, 9431, 9648, 9744],
    6247: [249, 322, 454, 780, 824, 864, 985, 1262, 3035, 3288, 3337, 3421, 3493, 3542, 4591, 5143, 5324, 5950, 6119, 6167, 6239, 6866, 6926, 7612, 8000, 8094, 8420, 8480, 8648, 8721, 8841, 8889, 9070, 9178, 9672],
    6246: [165, 237, 490, 527, 599, 647, 1166, 2299, 2420, 2472, 2951, 3361, 3626, 3783, 4229, 4519, 4904, 4914, 5589, 5770, 5890, 6516, 6589, 7817, 8444, 8805, 9118, 9178, 9540],
    6245: [973, 2046, 2239, 2275, 2878, 3011, 3373, 3819, 4615, 5324, 6179, 6312, 6697, 6866, 6950, 8179, 8600, 8684, 8938, 8998, 9230, 9588, 9793],
    6244: [490, 840, 1684, 3059, 3095, 3855, 4169, 4446, 4687, 5372, 6227, 6697, 6962, 7287, 7817, 7986, 8311, 8504, 8588, 8913, 9732],
    6243: [3059, 3192, 4000, 8456, 9130],
    6242: [603, 631, 2311, 3928, 5203, 7335, 8251, 8600, 8733, 9214, 9865],
    6241: [2504, 4675, 5745, 5902, 7034, 8046, 9347, 9648],
    6240: [1033, 1528, 6131, 8239],
    6239: [6287],
    6238: [297, 2155, 2987, 5384, 7480, 9600],
    6236: [5962],
    6235: [9684],
}

# ---------------------------
# tabla larga para seaborn
# ---------------------------
rows = []
for level, samples in upper.items():
    rows += [(s, level) for s in samples]
for level, samples in band_tens.items():
    rows += [(s * 10, level) for s in samples]
for level, samples in band_fill_tens.items():
    rows += [(s * 10, level) for s in samples]
for level, samples in lower.items():
    rows += [(s, level) for s in samples]
df = pd.DataFrame(rows, columns=["sample", "adc"])

# ---------------------------
# figure
# ---------------------------
fig, ax = plt.subplots(figsize=(10, 10), dpi=100)
sns.scatterplot(data=df, x="sample", y="adc", color="black", marker=".", s=36,
                linewidth=1, edgecolor="black", zorder=2, ax=ax,
                label=f"Samples\n$\\mu$ = {mu:.2f}, $\\sigma$ = {sigma:.2f}")
ax.set_xlim(-496, 10416)
ax.set_ylim(6231.8, 6303.4)
ax.set_title(title)
ax.set_xlabel(x_label)
ax.set_ylabel(y_label)
ax.grid(True)
ax.legend(loc="upper right")
fig.subplots_adjust(left=0.081, right=0.985, top=0.965, bottom=0.059)
plt.savefig("out.png")
plt.close()
